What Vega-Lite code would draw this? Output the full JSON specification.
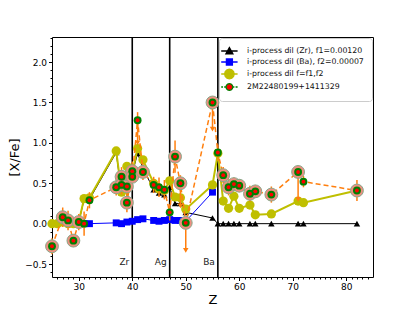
{
  "$schema": "https://vega.github.io/schema/vega-lite/v6.json",
  "width": 321,
  "height": 240,
  "autosize": {"type": "none"},
  "padding": {"left": 52, "top": 37, "right": 42, "bottom": 34},
  "datasets": {
    "vlines": [
      {"Z": 40, "label": "Zr"},
      {"Z": 47, "label": "Ag"},
      {"Z": 56, "label": "Ba"}
    ],
    "models": [
      {"series": "zr", "Z": 25, "y": 0.0}, {"series": "zr", "Z": 26, "y": 0.0}, {"series": "zr", "Z": 27, "y": 0.02}, {"series": "zr", "Z": 28, "y": 0.0},
      {"series": "zr", "Z": 29, "y": 0.0}, {"series": "zr", "Z": 30, "y": 0.02}, {"series": "zr", "Z": 31, "y": 0.3}, {"series": "zr", "Z": 32, "y": 0.3},
      {"series": "zr", "Z": 37, "y": 0.88}, {"series": "zr", "Z": 38, "y": 0.38}, {"series": "zr", "Z": 39, "y": 0.7}, {"series": "zr", "Z": 40, "y": 0.62},
      {"series": "zr", "Z": 41, "y": 0.87}, {"series": "zr", "Z": 42, "y": 0.69}, {"series": "zr", "Z": 44, "y": 0.42}, {"series": "zr", "Z": 45, "y": 0.38},
      {"series": "zr", "Z": 46, "y": 0.36}, {"series": "zr", "Z": 47, "y": 0.45}, {"series": "zr", "Z": 48, "y": 0.25}, {"series": "zr", "Z": 49, "y": 0.25},
      {"series": "zr", "Z": 50, "y": 0.14}, {"series": "zr", "Z": 55, "y": 0.07}, {"series": "zr", "Z": 56, "y": 0.0}, {"series": "zr", "Z": 57, "y": 0.0},
      {"series": "zr", "Z": 58, "y": 0.0}, {"series": "zr", "Z": 59, "y": 0.0}, {"series": "zr", "Z": 60, "y": 0.0}, {"series": "zr", "Z": 62, "y": 0.0},
      {"series": "zr", "Z": 63, "y": 0.0}, {"series": "zr", "Z": 66, "y": 0.0}, {"series": "zr", "Z": 71, "y": 0.0}, {"series": "zr", "Z": 72, "y": 0.0},
      {"series": "zr", "Z": 82, "y": 0.0},
      {"series": "ba", "Z": 31, "y": 0.0}, {"series": "ba", "Z": 32, "y": 0.0}, {"series": "ba", "Z": 37, "y": 0.01}, {"series": "ba", "Z": 38, "y": 0.0},
      {"series": "ba", "Z": 39, "y": 0.02}, {"series": "ba", "Z": 40, "y": 0.03}, {"series": "ba", "Z": 41, "y": 0.05}, {"series": "ba", "Z": 42, "y": 0.06},
      {"series": "ba", "Z": 44, "y": 0.04}, {"series": "ba", "Z": 45, "y": 0.03}, {"series": "ba", "Z": 46, "y": 0.04}, {"series": "ba", "Z": 47, "y": 0.05},
      {"series": "ba", "Z": 48, "y": 0.04}, {"series": "ba", "Z": 49, "y": 0.04}, {"series": "ba", "Z": 50, "y": 0.03}, {"series": "ba", "Z": 55, "y": 0.39},
      {"series": "mix", "Z": 25, "y": 0.0}, {"series": "mix", "Z": 26, "y": 0.0}, {"series": "mix", "Z": 27, "y": 0.02}, {"series": "mix", "Z": 28, "y": 0.0},
      {"series": "mix", "Z": 29, "y": 0.0}, {"series": "mix", "Z": 30, "y": 0.02}, {"series": "mix", "Z": 31, "y": 0.31}, {"series": "mix", "Z": 32, "y": 0.32},
      {"series": "mix", "Z": 37, "y": 0.9}, {"series": "mix", "Z": 38, "y": 0.39}, {"series": "mix", "Z": 39, "y": 0.71}, {"series": "mix", "Z": 40, "y": 0.63},
      {"series": "mix", "Z": 41, "y": 0.93}, {"series": "mix", "Z": 42, "y": 0.79}, {"series": "mix", "Z": 44, "y": 0.5}, {"series": "mix", "Z": 45, "y": 0.43},
      {"series": "mix", "Z": 46, "y": 0.41}, {"series": "mix", "Z": 47, "y": 0.53}, {"series": "mix", "Z": 48, "y": 0.33}, {"series": "mix", "Z": 49, "y": 0.32},
      {"series": "mix", "Z": 50, "y": 0.18}, {"series": "mix", "Z": 55, "y": 0.48}, {"series": "mix", "Z": 56, "y": 0.87}, {"series": "mix", "Z": 57, "y": 0.28},
      {"series": "mix", "Z": 58, "y": 0.19}, {"series": "mix", "Z": 59, "y": 0.34}, {"series": "mix", "Z": 60, "y": 0.19}, {"series": "mix", "Z": 62, "y": 0.23},
      {"series": "mix", "Z": 63, "y": 0.11}, {"series": "mix", "Z": 66, "y": 0.12}, {"series": "mix", "Z": 71, "y": 0.28}, {"series": "mix", "Z": 72, "y": 0.26},
      {"series": "mix", "Z": 82, "y": 0.41}
    ],
    "obs": [
      {"Z": 25, "y": -0.28, "err": 0.1, "halo": 1},
      {"Z": 27, "y": 0.08, "err": 0.12, "halo": 1},
      {"Z": 28, "y": 0.04, "err": 0.12, "halo": 1},
      {"Z": 29, "y": -0.21, "err": 0.08, "halo": 1},
      {"Z": 30, "y": 0.02, "err": 0.1, "halo": 1},
      {"Z": 31, "y": 0.0, "err": 0.15, "halo": 0},
      {"Z": 32, "y": 0.29, "err": 0.1, "halo": 0},
      {"Z": 37, "y": 0.45, "err": 0.1, "halo": 1},
      {"Z": 38, "y": 0.58, "err": 0.12, "halo": 1},
      {"Z": 38, "y": 0.48, "err": 0.12, "halo": 1},
      {"Z": 39, "y": 0.46, "err": 0.15, "halo": 1},
      {"Z": 39, "y": 0.26, "err": 0.12, "halo": 1},
      {"Z": 40, "y": 0.65, "err": 0.12, "halo": 1},
      {"Z": 40, "y": 0.58, "err": 0.1, "halo": 1},
      {"Z": 41, "y": 1.28, "err": 0.1, "halo": 0},
      {"Z": 42, "y": 0.64, "err": 0.1, "halo": 1},
      {"Z": 44, "y": 0.48, "err": 0.1, "halo": 0},
      {"Z": 45, "y": 0.45, "err": 0.12, "halo": 0},
      {"Z": 46, "y": 0.42, "err": 0.12, "halo": 0},
      {"Z": 47, "y": 0.14, "err": 0.1, "halo": 0},
      {"Z": 48, "y": 0.83, "err": 0.2, "halo": 1},
      {"Z": 49, "y": 0.5, "err": 0.1, "halo": 1},
      {"Z": 50, "y": 0.01, "err": 0.05, "halo": 1},
      {"Z": 55, "y": 1.5, "err": 0.05, "halo": 1},
      {"Z": 56, "y": 0.88, "err": 0.1, "halo": 0},
      {"Z": 57, "y": 0.6, "err": 0.1, "halo": 1},
      {"Z": 58, "y": 0.45, "err": 0.1, "halo": 1},
      {"Z": 59, "y": 0.49, "err": 0.08, "halo": 1},
      {"Z": 60, "y": 0.47, "err": 0.08, "halo": 1},
      {"Z": 62, "y": 0.37, "err": 0.1, "halo": 1},
      {"Z": 63, "y": 0.4, "err": 0.08, "halo": 1},
      {"Z": 66, "y": 0.36, "err": 0.1, "halo": 1},
      {"Z": 71, "y": 0.64, "err": 0.08, "halo": 1},
      {"Z": 72, "y": 0.52, "err": 0.07, "halo": 0},
      {"Z": 82, "y": 0.41, "err": 0.13, "halo": 1}
    ],
    "limits": [
      {"Z": 41, "y": 1.28, "lim": 1.0},
      {"Z": 49, "y": 0.5, "lim": 0.22},
      {"Z": 50, "y": 0.01, "lim": -0.33},
      {"Z": 55, "y": 1.5, "lim": 1.17},
      {"Z": 71, "y": 0.64, "lim": 0.3}
    ],
    "legend": [
      {"series": "i-process dil (Zr), f1=0.00120"},
      {"series": "i-process dil (Ba), f2=0.00007"},
      {"series": "i-process dil f=f1,f2"},
      {"series": "2M22480199+1411329"}
    ]
  },
  "encoding": {
    "x": {"field": "Z", "type": "quantitative", "scale": {"domain": [25, 85], "nice": false, "zero": false}, "axis": null}
  },
  "layer": [
    {
      "data": {"name": "vlines"},
      "mark": {"type": "rule", "color": "black", "strokeWidth": 1.6},
      "encoding": {
        "y": {"datum": -0.66, "type": "quantitative", "scale": {"domain": [-0.66, 2.31], "nice": false, "zero": false}, "axis": null},
        "y2": {"datum": 2.31}
      }
    },
    {
      "data": {"name": "vlines"},
      "mark": {"type": "text", "align": "right", "baseline": "middle", "dx": -3, "fontSize": 9, "color": "#222222"},
      "encoding": {
        "y": {"datum": -0.47, "type": "quantitative", "axis": null},
        "text": {"field": "label"}
      }
    },
    {
      "data": {"name": "models"},
      "transform": [{"filter": "datum.series === 'zr'"}],
      "mark": {"type": "line", "color": "black", "strokeWidth": 1},
      "encoding": {"y": {"field": "y", "type": "quantitative", "axis": null}}
    },
    {
      "data": {"name": "models"},
      "transform": [{"filter": "datum.series === 'zr'"}],
      "mark": {"type": "point", "shape": "triangle-up", "filled": true, "color": "black", "size": 42, "opacity": 1},
      "encoding": {"y": {"field": "y", "type": "quantitative", "axis": null}}
    },
    {
      "data": {"name": "models"},
      "transform": [{"filter": "datum.series === 'ba'"}],
      "mark": {"type": "line", "color": "blue", "strokeWidth": 1},
      "encoding": {"y": {"field": "y", "type": "quantitative", "axis": null}}
    },
    {
      "data": {"name": "models"},
      "transform": [{"filter": "datum.series === 'ba'"}],
      "mark": {"type": "point", "shape": "square", "filled": true, "color": "blue", "size": 48, "opacity": 1},
      "encoding": {"y": {"field": "y", "type": "quantitative", "axis": null}}
    },
    {
      "data": {"name": "models"},
      "transform": [{"filter": "datum.series === 'mix'"}],
      "mark": {"type": "line", "color": "#bfbf00", "strokeWidth": 2},
      "encoding": {"y": {"field": "y", "type": "quantitative", "axis": null}}
    },
    {
      "data": {"name": "models"},
      "transform": [{"filter": "datum.series === 'mix'"}],
      "mark": {"type": "point", "shape": "circle", "filled": true, "color": "#bfbf00", "size": 85, "opacity": 1},
      "encoding": {"y": {"field": "y", "type": "quantitative", "axis": null}}
    },
    {
      "data": {"name": "obs"},
      "mark": {"type": "line", "color": "#ff7f0e", "strokeWidth": 1.5, "strokeDash": [5, 3]},
      "encoding": {"y": {"field": "y", "type": "quantitative", "axis": null}}
    },
    {
      "data": {"name": "obs"},
      "mark": {"type": "errorbar", "color": "#ff7f0e", "ticks": false, "rule": {"strokeWidth": 1.5}},
      "encoding": {"y": {"field": "y", "type": "quantitative", "axis": null}, "yError": {"field": "err"}}
    },
    {
      "data": {"name": "limits"},
      "mark": {"type": "rule", "color": "#ff7f0e", "strokeWidth": 1.5},
      "encoding": {"y": {"field": "y", "type": "quantitative", "axis": null}, "y2": {"field": "lim"}}
    },
    {
      "data": {"name": "limits"},
      "mark": {"type": "point", "shape": "triangle-down", "filled": true, "color": "#ff7f0e", "size": 30, "opacity": 1},
      "encoding": {"y": {"field": "lim", "type": "quantitative", "axis": null}}
    },
    {
      "data": {"name": "obs"},
      "transform": [{"filter": "datum.halo === 1"}],
      "mark": {"type": "point", "shape": "circle", "filled": true, "fill": "#ef8e80", "stroke": "#8aa88a", "strokeWidth": 1, "size": 165, "opacity": 1},
      "encoding": {"y": {"field": "y", "type": "quantitative", "axis": null}}
    },
    {
      "data": {"name": "obs"},
      "mark": {"type": "point", "shape": "circle", "filled": true, "color": "green", "size": 62, "opacity": 1},
      "encoding": {"y": {"field": "y", "type": "quantitative", "axis": null}}
    },
    {
      "data": {"name": "obs"},
      "mark": {"type": "point", "shape": "circle", "filled": true, "color": "red", "size": 15, "opacity": 1},
      "encoding": {"y": {"field": "y", "type": "quantitative", "axis": null}}
    },
    {
      "data": {"name": "obs"},
      "mark": {"type": "point", "opacity": 0},
      "encoding": {
        "x": {"field": "Z", "type": "quantitative", "scale": {"domain": [25, 85], "nice": false, "zero": false},
              "axis": {"orient": "bottom", "values": [30, 40, 50, 60, 70, 80], "format": "d", "title": "Z", "grid": false, "domain": false,
                       "tickSize": 3.5, "labelPadding": 2, "titlePadding": 2, "titleFontSize": 13}},
        "y": {"field": "y", "type": "quantitative",
              "axis": {"orient": "left", "values": [-0.5, 0, 0.5, 1, 1.5, 2], "format": ".1f", "title": "[X/Fe]", "grid": false, "domain": false,
                       "tickSize": 3.5, "labelPadding": 2, "titlePadding": 3, "titleFontSize": 13}}
      }
    },
    {
      "data": {"name": "obs"},
      "mark": {"type": "point", "opacity": 0},
      "encoding": {
        "x": {"field": "Z", "type": "quantitative",
              "axis": {"orient": "bottom", "values": [26,27,28,29,31,32,33,34,35,36,37,38,39,41,42,43,44,45,46,47,48,49,51,52,53,54,55,56,57,58,59,61,62,63,64,65,66,67,68,69,71,72,73,74,75,76,77,78,79,81,82,83,84],
                       "labels": false, "title": null, "grid": false, "domain": false, "tickSize": 2}},
        "y": {"field": "y", "type": "quantitative",
              "axis": {"orient": "left", "values": [-0.6,-0.4,-0.3,-0.2,-0.1,0.1,0.2,0.3,0.4,0.6,0.7,0.8,0.9,1.1,1.2,1.3,1.4,1.6,1.7,1.8,1.9,2.1,2.2,2.3],
                       "labels": false, "title": null, "grid": false, "domain": false, "tickSize": 2}}
      }
    },
    {
      "data": {"name": "legend"},
      "transform": [{"filter": "datum.series === 'none'"}],
      "mark": {"type": "point", "filled": true},
      "encoding": {
        "y": {"datum": 0, "type": "quantitative", "axis": null},
        "fill": {"field": "series", "type": "nominal", "legend": {"title": null},
                 "scale": {"domain": ["i-process dil (Zr), f1=0.00120", "i-process dil (Ba), f2=0.00007", "i-process dil f=f1,f2", "2M22480199+1411329"],
                           "range": ["black", "blue", "#bfbf00", "red"]}},
        "stroke": {"field": "series", "type": "nominal", "legend": {"title": null},
                   "scale": {"domain": ["i-process dil (Zr), f1=0.00120", "i-process dil (Ba), f2=0.00007", "i-process dil f=f1,f2", "2M22480199+1411329"],
                             "range": ["black", "blue", "#bfbf00", "green"]}},
        "shape": {"field": "series", "type": "nominal", "legend": {"title": null},
                  "scale": {"domain": ["i-process dil (Zr), f1=0.00120", "i-process dil (Ba), f2=0.00007", "i-process dil f=f1,f2", "2M22480199+1411329"],
                            "range": [
                              "M-2.7,0H1.4M-1.525,0.72L-0.65,-0.86L0.225,0.72Z",
                              "M-2.7,0H1.4M-1.4,-0.75H0.1V0.75H-1.4Z",
                              "M-2.7,0H1.4M0.55,0L0.389,0.6L-0.05,1.039L-0.65,1.2L-1.25,1.039L-1.689,0.6L-1.85,0L-1.689,-0.6L-1.25,-1.039L-0.65,-1.2L-0.05,-1.039L0.389,-0.6Z",
                              "M-2.7,0H-2.25M-1.95,0H-1.6M0.3,0H0.6M0.9,0H1.4M0.2,0L0.086,0.425L-0.225,0.736L-0.65,0.85L-1.075,0.736L-1.386,0.425L-1.5,0L-1.386,-0.425L-1.075,-0.736L-0.65,-0.85L-0.225,-0.736L0.086,-0.425Z"
                            ]}}
      }
    }
  ],
  "resolve": {"axis": {"x": "independent", "y": "independent"}},
  "config": {
    "font": "DejaVu Sans",
    "background": "white",
    "view": {"stroke": "black", "strokeWidth": 1},
    "axis": {
      "labelFont": "DejaVu Sans", "labelFontSize": 9, "labelColor": "black",
      "tickColor": "black", "tickWidth": 1,
      "titleFont": "DejaVu Sans", "titleFontWeight": "normal", "titleColor": "black"
    },
    "legend": {
      "orient": "top-right", "offset": 1, "fillColor": "white", "strokeColor": "#cccccc",
      "padding": 8, "cornerRadius": 3, "labelFont": "DejaVu Sans", "labelFontSize": 7.8,
      "labelColor": "#111111", "symbolSize": 64, "symbolStrokeWidth": 1.3, "rowPadding": -2,
      "labelOffset": 10, "symbolOpacity": 1
    }
  }
}
